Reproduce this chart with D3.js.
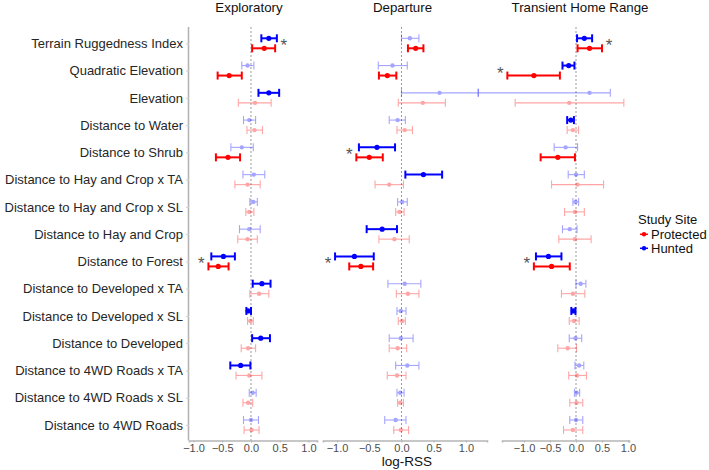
<!DOCTYPE html>
<html><head><meta charset="utf-8">
<script src="https://cdn.jsdelivr.net/npm/d3@7/dist/d3.min.js"></script>
<style>body{margin:0;background:#fff} svg{font-family:"Liberation Sans",Arial,sans-serif}</style>
</head><body><svg id="c" width="709" height="470"></svg>
<script>
const categories = ["Terrain Ruggedness Index","Quadratic Elevation","Elevation","Distance to Water","Distance to Shrub",
  "Distance to Hay and Crop x TA","Distance to Hay and Crop x SL","Distance to Hay and Crop","Distance to Forest",
  "Distance to Developed x TA","Distance to Developed x SL","Distance to Developed","Distance to 4WD Roads x TA",
  "Distance to 4WD Roads x SL","Distance to 4WD Roads"];
const panelTitles = ["Exploratory","Departure","Transient Home Range"];
const sites = ["Protected","Hunted"];
const xTicks = [-1.0,-0.5,0.0,0.5,1.0];
const xLabel = "log-RSS";
const legendTitle = "Study Site";

// [estimate, lower, upper]
const exploratoryHunted = [[0.31,0.18,0.45],[-0.06,-0.16,0.05],[0.31,0.13,0.49],[-0.03,-0.13,0.08],[-0.16,-0.35,0.04],
  [0.05,-0.14,0.24],[0.04,-0.02,0.11],[-0.03,-0.20,0.16],[-0.48,-0.69,-0.28],[0.19,0.03,0.34],[-0.05,-0.08,0.0],
  [0.17,0.02,0.33],[-0.18,-0.36,-0.01],[0.03,-0.03,0.09],[0.0,-0.13,0.13]];
const exploratoryProtected = [[0.23,0.02,0.42],[-0.38,-0.58,-0.16],[0.07,-0.22,0.35],[0.06,-0.07,0.20],[-0.40,-0.61,-0.19],
  [-0.06,-0.28,0.16],[-0.03,-0.09,0.05],[-0.06,-0.23,0.11],[-0.57,-0.74,-0.39],[0.14,-0.02,0.31],[-0.01,-0.06,0.04],
  [-0.05,-0.17,0.08],[-0.03,-0.26,0.19],[-0.05,-0.14,0.03],[0.01,-0.12,0.14]];
const departureHunted = [[0.13,0.0,0.27],[-0.14,-0.36,0.09],[0.59,0.0,1.19],[-0.06,-0.19,0.06],[-0.38,-0.66,-0.10],
  [0.34,0.06,0.63],[0.01,-0.06,0.09],[-0.30,-0.54,-0.07],[-0.73,-1.03,-0.43],[0.05,-0.21,0.30],[-0.01,-0.07,0.07],
  [-0.01,-0.19,0.18],[0.09,-0.09,0.27],[-0.02,-0.07,0.04],[-0.09,-0.26,0.07]];
const departureProtected = [[0.22,0.10,0.34],[-0.22,-0.35,-0.08],[0.33,-0.05,0.68],[0.05,-0.07,0.17],[-0.50,-0.70,-0.29],
  [-0.19,-0.41,0.03],[-0.03,-0.09,0.04],[-0.11,-0.35,0.12],[-0.63,-0.81,-0.44],[0.10,-0.08,0.27],[0.01,-0.05,0.06],
  [-0.06,-0.19,0.08],[-0.07,-0.22,0.07],[-0.02,-0.06,0.03],[-0.01,-0.12,0.11]];
const transientHunted = [[0.16,0.02,0.31],[-0.14,-0.26,-0.03],[0.26,-1.88,0.66],[-0.10,-0.17,-0.04],[-0.20,-0.42,0.03],
  [0.0,-0.15,0.16],[-0.01,-0.06,0.05],[-0.12,-0.26,0.02],[-0.53,-0.77,-0.28],[0.09,0.0,0.19],[-0.05,-0.09,-0.01],
  [-0.01,-0.13,0.11],[0.06,-0.02,0.15],[0.01,-0.03,0.07],[0.0,-0.12,0.13]];
const transientProtected = [[0.26,0.03,0.50],[-0.81,-1.32,-0.31],[-0.13,-1.17,0.92],[-0.06,-0.17,0.05],[-0.35,-0.68,-0.02],
  [0.03,-0.47,0.53],[-0.02,-0.22,0.16],[-0.02,-0.33,0.29],[-0.47,-0.81,-0.12],[-0.06,-0.28,0.17],[-0.04,-0.13,0.06],
  [-0.16,-0.35,0.01],[0.02,-0.14,0.20],[0.01,-0.12,0.13],[-0.06,-0.24,0.13]];

// 1 = significant (drawn bold), 0 = not significant (faded)
const exploratoryHuntedSig    = [1,0,1,0,0,0,0,0,1,1,1,1,1,0,0];
const exploratoryProtectedSig = [1,1,0,0,1,0,0,0,1,0,0,0,0,0,0];
const departureHuntedSig      = [0,0,0,0,1,1,0,1,1,0,0,0,0,0,0];
const departureProtectedSig   = [1,1,0,0,1,0,0,0,1,0,0,0,0,0,0];
const transientHuntedSig      = [1,1,0,1,0,0,0,0,1,0,1,0,0,0,0];
const transientProtectedSig   = [1,1,0,0,1,0,0,0,1,0,0,0,0,0,0];

// asterisks marking site differences: [panel index, category index, side]
const asterisks = [[0,0,"right"],[0,8,"left"],[1,4,"left"],[1,8,"left"],[2,0,"right"],[2,1,"left"],[2,8,"left"]];

const colors = {Protected:"#FF0000", Hunted:"#0000FF"};

// layout
const panels = [
  {title:panelTitles[0], hunted:exploratoryHunted, protected:exploratoryProtected, hSig:exploratoryHuntedSig, pSig:exploratoryProtectedSig, domain:[-1.078,1.148], range:[189,317], titleX:249},
  {title:panelTitles[1], hunted:departureHunted, protected:departureProtected, hSig:departureHuntedSig, pSig:departureProtectedSig, domain:[-1.217,1.326], range:[323,487], titleX:402.5},
  {title:panelTitles[2], hunted:transientHunted, protected:transientProtected, hSig:transientHuntedSig, pSig:transientProtectedSig, domain:[-1.423,1.019], range:[502,629], titleX:580}
];

const svg = d3.select("#c");
const plotTop = 27, plotBottom = 440.5;
const y = d3.scalePoint().domain(categories).range([43.3, 425]);
const off = {Hunted:-5, Protected:5};

panels.forEach((p, pi) => {
  const x = d3.scaleLinear().domain(p.domain).range(p.range);
  p.x = x;
  const g = svg.append("g");
  g.append("text").attr("x", p.titleX).attr("y", 11.5).attr("text-anchor","middle")
    .attr("font-size","13.3px").attr("fill","#111").text(p.title);
  g.append("line").attr("x1",x(0)).attr("x2",x(0)).attr("y1",plotTop).attr("y2",plotBottom)
    .attr("stroke","#9a9a9a").attr("stroke-width",1).attr("stroke-dasharray","2,2");
  const ax = g.append("g").attr("transform",`translate(0,${plotBottom})`)
    .call(d3.axisBottom(x).tickValues(xTicks).tickSize(2).tickPadding(2));
  ax.select(".domain").attr("stroke","#b5b5b5").attr("stroke-width",1.6);
  ax.selectAll(".tick line").attr("stroke","#b5b5b5");
  ax.selectAll(".tick text").attr("font-size","11px").attr("fill","#4d4d4d").attr("font-family","Liberation Sans, Arial, sans-serif")
    .text(d => d3.format(".1f")(d).replace("-","\u2212"));

  const rows = [];
  categories.forEach((c, i) => {
    rows.push({site:"Protected", cat:c, v:p.protected[i], sig:p.pSig[i]});
    rows.push({site:"Hunted", cat:c, v:p.hunted[i], sig:p.hSig[i]});
  });
  rows.sort((a,b) => a.sig - b.sig);
  const eb = g.selectAll(".eb").data(rows).join("g")
    .attr("opacity", d => d.sig ? 1 : 0.35)
    .attr("stroke", d => colors[d.site]).attr("fill", d => colors[d.site]);
  eb.each(function(d){
    const s = d3.select(this);
    const yy = y(d.cat) + off[d.site];
    const w = d.sig ? 2 : 1.1;
    s.append("line").attr("x1",x(d.v[1])).attr("x2",x(d.v[2])).attr("y1",yy).attr("y2",yy).attr("stroke-width",w);
    s.append("line").attr("x1",x(d.v[1])).attr("x2",x(d.v[1])).attr("y1",yy-4).attr("y2",yy+4).attr("stroke-width",w);
    s.append("line").attr("x1",x(d.v[2])).attr("x2",x(d.v[2])).attr("y1",yy-4).attr("y2",yy+4).attr("stroke-width",w);
    s.append("circle").attr("cx",x(d.v[0])).attr("cy",yy).attr("r", d.sig ? 2.6 : 2.2).attr("stroke","none");
  });
});

const yAxis = svg.append("g").attr("transform",`translate(${panels[0].range[0]},0)`)
  .call(d3.axisLeft(y).tickSize(3).tickPadding(3));
yAxis.select(".domain").attr("stroke","#b5b5b5").attr("stroke-width",1.6).attr("d",`M-0.5,${plotTop}V${plotBottom}`);
yAxis.selectAll(".tick line").attr("stroke","#cfcfcf");
yAxis.selectAll(".tick text").attr("font-size","13px").attr("fill","#262626").attr("font-family","Liberation Sans, Arial, sans-serif");

asterisks.forEach(([pi, ci, side]) => {
  const p = panels[pi];
  const vals = [p.hunted[ci], p.protected[ci]];
  const xx = side === "right" ? p.x(d3.max(vals, v => v[2])) + 7 : p.x(d3.min(vals, v => v[1])) - 7;
  svg.append("text").attr("x", xx).attr("y", y(categories[ci]) + 8).attr("text-anchor","middle")
    .attr("font-size","17px").attr("fill","#555").text("*");
});

svg.append("text").attr("x", panels[1].x(0)+5.5).attr("y", 465.5).attr("text-anchor","middle")
  .attr("font-size","13.5px").attr("fill","#111").text(xLabel);

const lg = svg.append("g").attr("transform","translate(638,0)");
lg.append("text").attr("x",0).attr("y",224).attr("font-size","13px").attr("fill","#111").text(legendTitle);
sites.forEach((s, i) => {
  const yy = 234.3 + i*14;
  lg.append("line").attr("x1",2).attr("x2",10).attr("y1",yy).attr("y2",yy).attr("stroke",colors[s]).attr("stroke-width",1.5);
  lg.append("circle").attr("cx",6).attr("cy",yy).attr("r",2.2).attr("fill",colors[s]);
  lg.append("text").attr("x",13).attr("y",yy+4.6).attr("font-size","13px").attr("fill","#111").text(s);
});
</script></body></html>
